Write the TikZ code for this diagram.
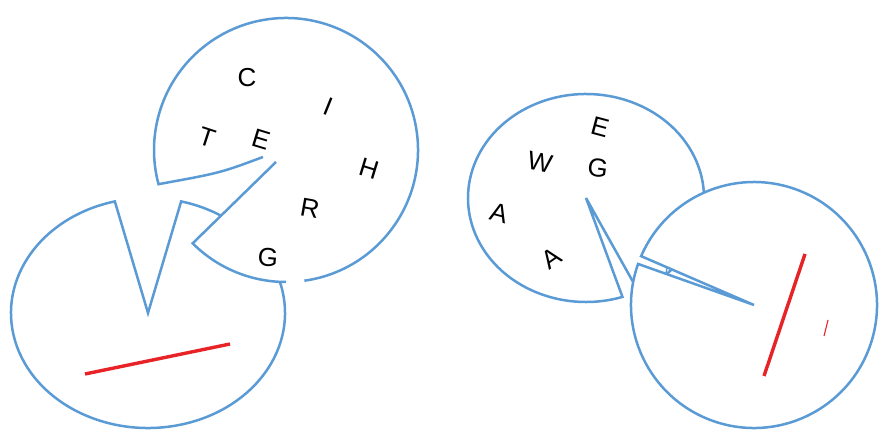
\documentclass[tikz,border=0pt]{standalone}
\usepackage{fontspec}
\setmainfont{Liberation Sans}
\usetikzlibrary{calc}
\definecolor{pieblue}{RGB}{91,155,213}
\definecolor{piered}{RGB}{232,35,40}
\begin{document}
\begin{tikzpicture}[x=1pt,y=1pt,
  pie/.style={draw=pieblue,line width=2.5pt,fill=white,line join=miter},
  pieline/.style={draw=pieblue,line width=2.5pt,line join=miter},
  redline/.style={draw=piered,line width=3.4pt},
  thinred/.style={draw=piered,line width=1.1pt},
  lett/.style={inner sep=0pt,font=\fontsize{26}{26}\selectfont}]
\useasboundingbox (0,0) rectangle (883,439);
% ---- left pair ----
\coordinate (c2) at (148,126);
\filldraw[pie] (c2) -- ++(104:137pt and 115pt)
  arc[start angle=104,end angle=436,x radius=137pt,y radius=115pt] -- cycle;
\coordinate (r1a) at (85,65);
\coordinate (r1b) at (230,95);
\draw[redline] (r1a) -- (r1b);
\coordinate (c1) at (286,289);
\coordinate (p1a) at (263,282);
\coordinate (p1b) at (276,277);
\fill[white] (c1) ++(225:132pt) arc[start angle=225,end angle=555,radius=132pt]
  .. controls (220,266) .. (p1a) -- (p1b) -- cycle;
\draw[pieline] (p1b) -- ($(c1)+(225:132pt)$) arc[start angle=225,end angle=270,radius=132pt];
\draw[pieline] (c1) ++(278:132pt) arc[start angle=278,end angle=555,radius=132pt]
  .. controls (220,266) .. (p1a);
\node[lett] (lC) at (247,361) {C};
\node[lett,rotate=-22] (lI) at (328,332) {I};
\node[lett,rotate=-18] (lT) at (207,302) {T};
\node[lett,rotate=-17] (lE) at (261,300) {E};
\node[lett,rotate=-17] (lH) at (369,270) {H};
\node[lett,rotate=-10] (lR) at (310,231) {R};
\node[lett,rotate=-5] (lG) at (268,182) {G};
% ---- right pair ----
\coordinate (c3) at (586,241);
\filldraw[pie] (c3) -- ++(-63.7:118pt and 104pt)
  arc[start angle=-63.7,end angle=288,x radius=118pt,y radius=104pt] -- cycle;
\node[lett,rotate=-15] (rE) at (600,312) {E};
\node[lett,rotate=-12] (rW) at (540,277) {W};
\node[lett,rotate=-8] (rG) at (598,271) {G};
\node[lett,rotate=-15] (rA1) at (499,226) {A};
\node[lett,rotate=35] (rA2) at (551,181) {A};
\coordinate (c4) at (754,134);
\filldraw[pie] (c4) -- ++(160.5:123pt)
  arc[start angle=160.5,end angle=516.6,radius=123pt] -- cycle;
\coordinate (t1) at (667,171.5);
\coordinate (t2) at (666,165);
\draw[pieline,line width=1.4pt] (t1) -- (t2);
\coordinate (r2a) at (805,185);
\coordinate (r2b) at (764,63);
\draw[redline] (r2a) -- (r2b);
\coordinate (r3a) at (828,119);
\coordinate (r3b) at (824,103);
\draw[thinred] (r3a) -- (r3b);
\end{tikzpicture}
\end{document}
